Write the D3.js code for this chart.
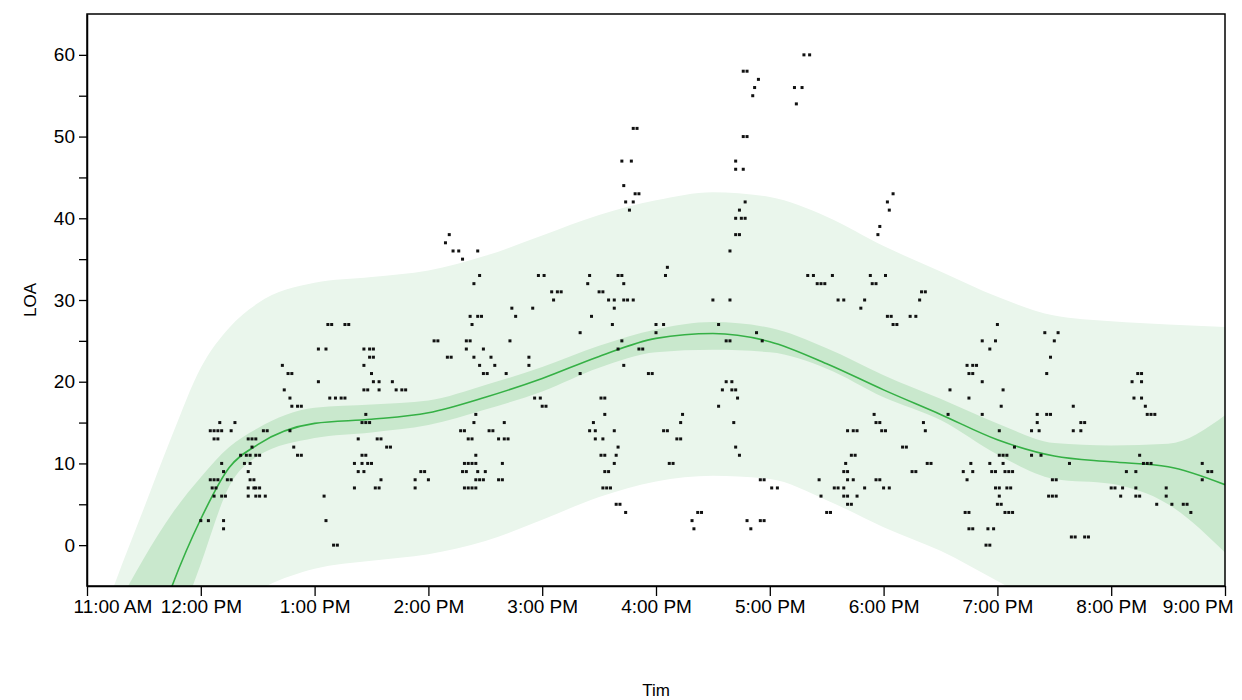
<!DOCTYPE html>
<html>
<head>
<meta charset="utf-8">
<script src="https://cdn.jsdelivr.net/npm/d3@7"></script>
<style>
  body { margin: 0; background: #fff; }
  text { font-family: "Liberation Sans", Arial, sans-serif; }
</style>
</head>
<body>
<div id="chart"></div>
<script>
// observations, grouped by the hour they fall in: [time, LOA]
var pts12 = [
  ["12:00",3],["12:04",3],["12:12",3],["12:12",2],
  ["12:05",14],["12:07",14],["12:09",14],["12:11",14],["12:16",14],
  ["12:10",15],["12:18",15],
  ["12:07",13],["12:09",13],["12:25",13],["12:27",13],["12:29",13],
  ["12:33",14],["12:35",14],["12:47",14],
  ["12:27",12],["12:49",12],
  ["12:21",11],["12:24",11],["12:26",11],["12:29",11],["12:31",11],["12:51",11],["12:53",11],
  ["12:11",10],["12:23",10],["12:26",10],
  ["12:12",9],["12:25",9],
  ["12:05",8],["12:07",8],["12:09",8],["12:14",8],["12:16",8],["12:26",8],["12:28",8],
  ["12:06",7],["12:08",7],["12:25",7],["12:28",7],["12:29",7],["12:31",7],
  ["12:07",6],["12:11",6],["12:13",6],["12:25",6],["12:29",6],["12:31",6],["12:34",6],
  ["12:44",19],["12:47",18],["12:48",17],["12:51",17],["12:53",17],
  ["12:43",22],["12:46",21],["12:48",21]
];
var pts13 = [
  ["13:05",6],["13:06",3],["13:10",0],["13:12",0],
  ["13:27",16],["13:25",15],["13:27",15],["13:29",15],
  ["13:23",13],["13:33",13],["13:35",13],
  ["13:25",11],["13:27",11],
  ["13:21",10],["13:25",10],["13:28",10],["13:30",10],
  ["13:23",9],["13:26",9],
  ["13:35",8],["13:21",7],["13:32",7],["13:34",7],
  ["13:02",20],["13:08",18],["13:11",18],["13:14",18],["13:16",18],
  ["13:26",19],["13:28",19],["13:34",19],
  ["13:31",20],["13:34",20],
  ["13:07",27],["13:09",27],["13:16",27],["13:18",27],
  ["13:02",24],["13:06",24],["13:26",24],["13:29",24],["13:31",24],
  ["13:29",23],["13:31",23],["13:26",22],["13:30",21],
  ["13:41",20],["13:43",19],["13:46",19],["13:48",19],
  ["13:38",12],["13:40",12],
  ["13:53",8],["13:53",7],["13:56",9],["13:58",9]
];
var pts14 = [
  ["14:00",8],
  ["14:11",38],["14:09",37],["14:13",36],["14:16",36],["14:26",36],["14:18",35],["14:27",33],["14:24",32],
  ["14:58",33],
  ["14:44",29],["14:55",29],["14:46",28],["14:22",28],["14:26",28],["14:28",28],["14:23",27],
  ["14:03",25],["14:05",25],["14:20",25],["14:22",25],["14:20",24],["14:29",24],["14:43",25],
  ["14:10",23],["14:12",23],["14:24",23],["14:33",23],["14:53",23],
  ["14:27",22],["14:35",22],["14:53",22],
  ["14:29",21],["14:31",21],["14:41",21],
  ["14:25",16],["14:24",15],["14:40",15],
  ["14:17",14],["14:19",14],["14:32",14],["14:34",14],
  ["14:21",13],["14:23",13],["14:37",13],["14:40",13],["14:42",13],
  ["14:25",11],
  ["14:19",10],["14:21",10],["14:23",10],["14:25",10],["14:39",10],
  ["14:18",9],["14:20",9],["14:26",9],["14:30",9],
  ["14:25",8],["14:27",8],["14:29",8],["14:37",8],["14:39",8],
  ["14:19",7],["14:21",7],["14:23",7],["14:25",7],
  ["14:56",18],["14:59",18]
];
var pts15 = [
  ["15:01",33],["15:05",31],["15:08",31],["15:10",31],["15:06",30],
  ["15:25",33],["15:24",32],["15:40",33],["15:42",33],["15:43",32],
  ["15:30",31],["15:32",31],["15:35",30],["15:38",30],["15:43",30],["15:45",30],["15:48",30],
  ["15:38",29],["15:26",28],["15:37",27],["15:20",26],
  ["15:44",42],["15:48",42],["15:46",41],["15:48",51],["15:50",51],["15:42",47],["15:47",47],
  ["15:43",44],["15:49",43],["15:51",43],
  ["15:42",25],["15:40",24],["15:51",24],["15:53",24],["15:43",22],["15:20",21],["15:56",21],["15:58",21],
  ["15:00",17],["15:02",17],
  ["15:27",15],["15:33",16],["15:25",14],["15:28",14],["15:38",14],["15:28",13],["15:32",13],["15:40",12],
  ["15:31",11],["15:33",11],["15:39",11],["15:38",10],["15:33",9],["15:35",9],
  ["15:32",7],["15:34",7],["15:36",7],["15:39",5],["15:41",5],["15:44",4],
  ["15:31",18],["15:33",18]
];
var pts16 = [
  ["16:00",27],["16:04",27],["16:00",26],["16:06",34],["16:05",33],
  ["16:04",14],["16:06",14],["16:11",13],["16:13",13],["16:07",10],["16:09",10],["16:13",15],["16:14",16],
  ["16:46",58],["16:48",58],["16:54",57],["16:52",56],["16:51",55],["16:46",50],["16:48",50],
  ["16:42",47],["16:42",46],["16:46",46],["16:47",42],["16:44",41],["16:42",40],["16:45",40],["16:47",40],
  ["16:42",38],["16:44",38],["16:39",36],["16:30",30],["16:39",30],["16:33",27],["16:37",25],["16:39",25],
  ["16:53",26],["16:56",25],
  ["16:37",20],["16:40",20],["16:35",19],["16:40",19],["16:42",19],["16:43",18],["16:33",17],
  ["16:41",15],["16:42",12],["16:44",11],
  ["16:55",8],["16:57",8],
  ["16:22",4],["16:24",4],["16:19",3],["16:20",2],["16:48",3],["16:55",3],["16:57",3],["16:50",2]
];
var pts17 = [
  ["17:01",7],["17:04",7],
  ["17:18",60],["17:21",60],["17:13",56],["17:17",56],["17:14",54],
  ["17:20",33],["17:23",33],["17:33",33],["17:25",32],["17:27",32],["17:29",32],
  ["17:36",30],["17:39",30],["17:50",30],["17:48",29],["17:53",33],["17:54",32],["17:56",32],
  ["17:58",39],["17:57",38],
  ["17:55",16],["17:56",15],["17:58",15],["17:59",14],
  ["17:41",14],["17:44",14],["17:46",14],["17:43",11],["17:45",11],["17:40",10],["17:39",9],["17:41",9],
  ["17:26",8],["17:41",8],["17:44",8],["17:56",8],["17:58",8],
  ["17:34",7],["17:36",7],["17:39",7],["17:50",7],
  ["17:27",6],["17:39",6],["17:41",6],["17:46",6],["17:41",5],["17:43",5],["17:30",4],["17:32",4]
];
var pts18 = [
  ["18:01",33],["18:20",31],["18:22",31],["18:19",30],["18:02",28],["18:04",28],["18:14",28],["18:17",28],
  ["18:05",43],["18:02",42],["18:03",41],
  ["18:05",27],["18:07",27],
  ["18:01",14],["18:00",7],["18:03",7],
  ["18:21",15],["18:22",14],["18:10",12],["18:12",12],["18:15",9],["18:17",9],["18:23",10],["18:25",10],
  ["18:52",25],["18:59",25],["18:56",24],["18:44",22],["18:47",22],["18:49",22],["18:45",21],["18:47",21],["18:52",20],
  ["18:35",19],["18:45",18],["18:34",16],["18:52",16],
  ["18:46",10],["18:42",9],["18:47",9],["18:44",8],["18:56",10],["18:57",9],["18:59",9],
  ["18:59",7],["18:43",4],["18:45",4],["18:45",2],["18:47",2],["18:55",2],["18:58",2],["18:54",0],["18:56",0]
];
var pts19 = [
  ["19:00",27],["19:03",19],["19:02",17],["19:01",14],["19:03",10],["19:04",9],["19:06",9],["19:08",9],
  ["19:09",12],["19:01",11],["19:03",11],["19:05",11],
  ["19:01",7],["19:05",7],["19:07",7],["19:01",6],["19:00",5],["19:02",5],["19:04",4],["19:06",4],["19:08",4],
  ["19:25",26],["19:32",26],["19:30",25],["19:28",23],["19:26",21],["19:21",16],["19:26",16],["19:28",16],
  ["19:21",15],["19:18",14],["19:22",14],
  ["19:40",17],["19:44",15],["19:46",15],["19:40",14],["19:44",14],["19:18",11],["19:23",11],["19:38",10],
  ["19:29",8],["19:31",8],["19:27",6],["19:29",6],["19:31",6],
  ["19:39",1],["19:41",1],["19:46",1],["19:48",1]
];
var pts20 = [
  ["20:14",21],["20:16",21],["20:11",20],["20:16",20],["20:12",18],["20:16",18],["20:18",17],
  ["20:19",16],["20:21",16],["20:23",16],
  ["20:15",11],["20:17",10],["20:19",10],["20:21",10],["20:08",9],["20:13",9],
  ["20:00",7],["20:02",7],["20:06",7],["20:13",7],["20:05",6],["20:13",6],["20:15",6],
  ["20:29",7],["20:29",6],["20:24",5],["20:32",5],["20:38",5],["20:40",5],["20:42",4],
  ["20:48",10],["20:51",9],["20:53",9],["20:48",8]
];

// smoothed fit with its confidence and prediction bands
var fitTimes = ["11:00","11:15","11:30","11:45","12:00","12:15","12:30","13:00","13:30","14:00","14:30",
  "15:00","15:30","16:00","16:30","17:00","17:30","18:00","18:30","19:00","19:30","20:00","20:30","21:00"];
var fitLine = [-40,-27,-15,-4.9,3.2,9.5,12.3,14.9,15.4,16.2,18.1,20.4,23.1,25.3,25.9,24.9,22.2,19.0,16.0,12.9,10.9,10.2,9.6,7.4];
var ciHigh  = [-16,-8,-1.6,3.9,8.3,12.0,14.3,16.8,17.2,17.7,19.6,21.8,24.4,26.4,27.3,26.6,24.1,20.8,17.9,14.9,12.5,12.2,12.4,15.9];
var ciLow   = [-50,-35,-23,-12,-2.3,7.2,10.9,13.1,13.8,14.7,16.6,18.8,21.7,23.6,23.9,23.6,21.6,18.1,15.3,11.1,8.1,7.5,5.0,-0.9];
var piHigh  = [-14,-4.5,4.5,13.5,21.7,26.6,29.6,32.1,32.8,33.6,35.4,37.9,40.4,42.2,43.2,42.6,40.2,36.6,33.5,30.4,28.1,27.4,27.0,26.7];
var piLow   = [-70,-55,-40,-25,-12,-8,-5.6,-2.9,-1.9,-1.1,0.5,3.1,5.9,7.8,8.5,8.1,5.5,2.2,-0.7,-4.4,-8,-10,-11,-12];

var xTicks = ["11:00","12:00","13:00","14:00","15:00","16:00","17:00","18:00","19:00","20:00","21:00"];
var yMajor = [0,10,20,30,40,50,60];

var parseTime = d3.timeParse("%H:%M");

var margin = {top: 14, right: 17, bottom: 114, left: 87},
    width = 1242 - margin.left - margin.right,
    height = 700 - margin.top - margin.bottom;

var x = d3.scaleTime()
    .domain([parseTime("11:00"), parseTime("21:00")])
    .range([0, width]);
var y = d3.scaleLinear()
    .domain([-5, 65])
    .range([height, 0]);

var svg = d3.select("#chart").append("svg")
    .attr("width", 1242)
    .attr("height", 700)
  .append("g")
    .attr("transform", "translate(" + margin.left + "," + margin.top + ")");

svg.append("clipPath").attr("id", "plotclip")
  .append("rect").attr("width", width).attr("height", height);

var fit = fitTimes.map(function(t, i) {
  return {t: parseTime(t), line: fitLine[i], cl: ciLow[i], ch: ciHigh[i], pl: piLow[i], ph: piHigh[i]};
});

var plot = svg.append("g").attr("clip-path", "url(#plotclip)");

// prediction band
plot.append("path")
  .datum(fit)
  .attr("fill", "#eaf6ec")
  .attr("d", d3.area().curve(d3.curveMonotoneX)
    .x(function(d) { return x(d.t); })
    .y0(function(d) { return y(d.pl); })
    .y1(function(d) { return y(d.ph); }));

// confidence band
plot.append("path")
  .datum(fit)
  .attr("fill", "#c9e8cd")
  .attr("d", d3.area().curve(d3.curveMonotoneX)
    .x(function(d) { return x(d.t); })
    .y0(function(d) { return y(d.cl); })
    .y1(function(d) { return y(d.ch); }));

// fitted line
plot.append("path")
  .datum(fit)
  .attr("fill", "none")
  .attr("stroke", "#35b045")
  .attr("stroke-width", 1.6)
  .attr("d", d3.line().curve(d3.curveMonotoneX)
    .x(function(d) { return x(d.t); })
    .y(function(d) { return y(d.line); }));

// points
var points = [].concat(pts12, pts13, pts14, pts15, pts16, pts17, pts18, pts19, pts20);
plot.selectAll("rect.pt")
  .data(points)
  .enter().append("rect")
  .attr("class", "pt")
  .attr("x", function(d) { return x(parseTime(d[0])) - 1.5; })
  .attr("y", function(d) { return y(d[1]) - 1.5; })
  .attr("width", 3)
  .attr("height", 3)
  .attr("fill", "#111");

// axes
var xAxis = svg.append("g")
  .attr("transform", "translate(0," + height + ")")
  .call(d3.axisBottom(x)
    .tickValues(xTicks.map(parseTime))
    .tickFormat(d3.timeFormat("%-I:%M %p"))
    .tickSize(10)
    .tickSizeOuter(0)
    .tickPadding(4));

var yTickVals = d3.range(5, 60, 5).concat([60]);
var yAxis = svg.append("g")
  .call(d3.axisLeft(y)
    .tickValues(yTickVals.concat([0]))
    .tickFormat(function(d) { return yMajor.indexOf(d) >= 0 ? d : ""; })
    .tickSize(8)
    .tickSizeOuter(0)
    .tickPadding(4));

[xAxis, yAxis].forEach(function(a) {
  a.selectAll("text").attr("font-size", 19).attr("fill", "#000")
    .attr("font-family", "Liberation Sans, Arial, sans-serif");
  a.selectAll("line").attr("stroke", "#000").attr("stroke-width", 1.3);
  a.select(".domain").attr("stroke", "#000").attr("stroke-width", 1.5);
});

// keep the end labels inside the figure
var xLabels = xAxis.selectAll(".tick text");
xLabels.filter(function(d, i) { return i === 0; })
  .attr("text-anchor", "start").attr("x", -14);
xLabels.filter(function(d, i, nodes) { return i === nodes.length - 1; })
  .attr("text-anchor", "end").attr("x", 8);

// frame
svg.append("rect")
  .attr("width", width)
  .attr("height", height)
  .attr("fill", "none")
  .attr("stroke", "#000")
  .attr("stroke-width", 1.5);

// axis titles
svg.append("text")
  .attr("x", width / 2)
  .attr("y", 682)
  .attr("text-anchor", "middle")
  .attr("font-size", 17)
  .text("Tim");

svg.append("text")
  .attr("transform", "translate(" + (-51) + "," + (height / 2) + ") rotate(-90)")
  .attr("text-anchor", "middle")
  .attr("font-size", 17)
  .text("LOA");
</script>
</body>
</html>
